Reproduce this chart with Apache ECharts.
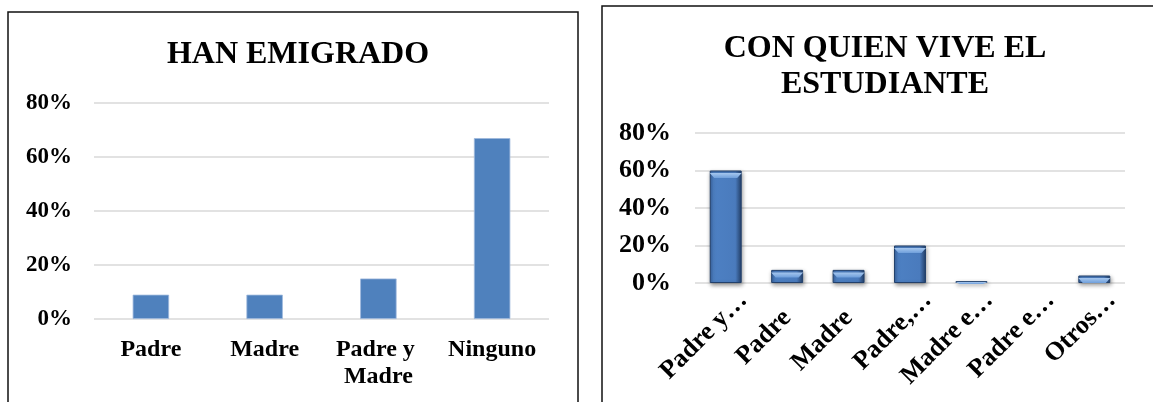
<!DOCTYPE html>
<html>
<head>
<meta charset="utf-8">
<title>Han emigrado / Con quien vive el estudiante</title>
<script src="https://cdn.jsdelivr.net/npm/echarts@6/dist/echarts.min.js"></script>
<style>
  html, body { margin: 0; padding: 0; background: #fff; }
  #chart { width: 1153px; height: 402px; }
</style>
</head>
<body>
<div id="chart"></div>
<script>
// chart 1: han emigrado
var emigCats = ['Padre', 'Madre', 'Padre y Madre', 'Ninguno']
var emigVals = [9, 9, 15, 67]

// chart 2: con quien vive el estudiante (labels are truncated in the original)
var viveCats = ['Padre y…', 'Padre', 'Madre', 'Padre,…', 'Madre e…', 'Padre e…', 'Otros…']
var viveVals = [60, 7, 7, 20, 1, 0, 4]

var serif = "'Times New Roman', 'Liberation Serif', serif"
var gridColor = '#d9d9d9'

var chart = echarts.init(document.getElementById('chart'))

// excel pushes the truncated (…) labels further right than the short ones
var viveLabels = viveCats.map(function(c) {
  if (c.slice(-1) === '…') return c
  return { value: c, textStyle: { padding: [0, 0, 28, 0] } }
})

// zero bars get no outline/shadow, tiny bars get a full-height bevel
var viveBars = viveVals.map(function(v) {
  return v > 0 ? v : { value: v, itemStyle: { borderWidth: 0, shadowBlur: 0, shadowOffsetY: 0 } }
})
var viveBevel = viveVals.map(function(v) {
  if (v <= 0) return { value: v, symbol: 'none' }
  if (v < 3) return { value: v, symbolSize: ['100%', '100%'] }
  return v
})

chart.setOption({
  animation: false,
  backgroundColor: '#fff',
  graphic: [
    { type: 'rect', shape: { x: 8, y: 12, width: 570, height: 400 }, style: { fill: 'none', stroke: '#111', lineWidth: 1.5 } },
    { type: 'rect', shape: { x: 602, y: 6, width: 570, height: 410 }, style: { fill: 'none', stroke: '#111', lineWidth: 1.5 } }
  ],
  title: [
    {
      text: 'HAN EMIGRADO',
      left: 293, top: 34, textAlign: 'center',
      textStyle: { fontFamily: serif, fontSize: 32, fontWeight: 'bold', color: '#000' }
    },
    {
      text: 'CON QUIEN VIVE EL\nESTUDIANTE',
      left: 880, top: 26, textAlign: 'center',
      textStyle: { fontFamily: serif, fontSize: 32, fontWeight: 'bold', color: '#000', lineHeight: 36 }
    }
  ],
  grid: [
    { left: 94, right: 604, top: 103, bottom: 83 },
    { left: 695, right: 28, top: 133, bottom: 119 }
  ],
  xAxis: [
    {
      gridIndex: 0, type: 'category', data: emigCats,
      axisLine: { show: false }, axisTick: { show: false },
      axisLabel: {
        interval: 0, margin: 17, width: 110, overflow: 'break', lineHeight: 27,
        fontFamily: serif, fontSize: 24, fontWeight: 'bold', color: '#000'
      }
    },
    {
      gridIndex: 1, type: 'category', data: viveLabels,
      axisLine: { show: false }, axisTick: { show: false },
      axisLabel: {
        interval: 0, rotate: 45, margin: 31, padding: [0, -25, 0, 0],
        fontFamily: serif, fontSize: 26, fontWeight: 'bold', color: '#000'
      }
    }
  ],
  yAxis: [
    {
      gridIndex: 0, type: 'value', min: 0, max: 80, interval: 20,
      axisLine: { show: false }, axisTick: { show: false },
      splitLine: { lineStyle: { color: gridColor, width: 1.5 } },
      axisLabel: {
        margin: 22, formatter: '{value}%',
        fontFamily: serif, fontSize: 23, fontWeight: 'bold', color: '#000'
      }
    },
    {
      gridIndex: 1, type: 'value', min: 0, max: 80, interval: 20,
      axisLine: { show: false }, axisTick: { show: false },
      splitLine: { lineStyle: { color: gridColor, width: 1.5 } },
      axisLabel: {
        margin: 24, formatter: '{value}%',
        fontFamily: serif, fontSize: 26, fontWeight: 'bold', color: '#000'
      }
    }
  ],
  series: [
    {
      type: 'bar', xAxisIndex: 0, yAxisIndex: 0,
      data: emigVals, barWidth: '32%',
      itemStyle: { color: '#4f81bd', borderColor: '#9db8dc', borderWidth: 0.8 }
    },
    {
      type: 'bar', xAxisIndex: 1, yAxisIndex: 1,
      data: viveBars, barWidth: '52%', barGap: '-100%',
      itemStyle: {
        color: {
          type: 'linear', x: 0, y: 0, x2: 1, y2: 0,
          colorStops: [
            { offset: 0, color: '#3a66a3' },
            { offset: 0.12, color: '#4d80c3' },
            { offset: 0.8, color: '#4a7bbd' },
            { offset: 1, color: '#24406a' }
          ]
        },
        borderColor: '#22406b', borderWidth: 1,
        shadowColor: 'rgba(0,0,0,0.4)', shadowBlur: 4, shadowOffsetX: 1, shadowOffsetY: 2
      }
    },
    {
      // lighter bevel at top of each bar
      type: 'pictorialBar', xAxisIndex: 1, yAxisIndex: 1,
      data: viveBevel,
      barWidth: '52%', barGap: '-100%',
      symbol: 'path://M0,0 L10,0 L8.6,2 L1.4,2 Z',
      symbolSize: ['100%', 5], symbolPosition: 'end', symbolOffset: [0, '50%'],
      itemStyle: {
        color: {
          type: 'linear', x: 0, y: 0, x2: 0, y2: 1,
          colorStops: [
            { offset: 0, color: '#a6c7ee' },
            { offset: 1, color: '#6f9fdb' }
          ]
        }
      },
      z: 3
    }
  ]
})
</script>
</body>
</html>
